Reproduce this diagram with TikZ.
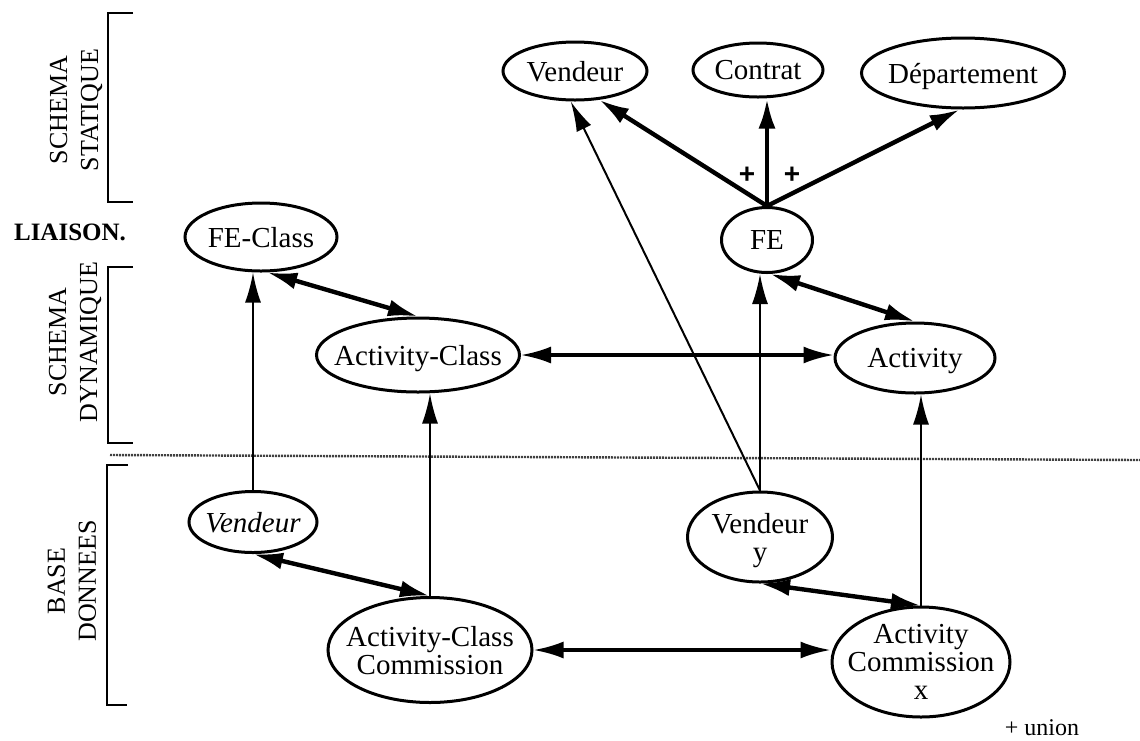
\documentclass[tikz,border=0pt]{standalone}
\usepackage{fontspec}
\setmainfont{Liberation Serif}
\setsansfont{Liberation Sans}
\usetikzlibrary{shapes.geometric,arrows.meta}
\newcommand{\nodetxt}[1]{\smash{\makebox[0pt]{\raisebox{-0.36em}{\begin{tabular}{@{}c@{}}#1\end{tabular}}}}}
\tikzset{
  ent/.style={ellipse, draw, line width=3pt, inner sep=0pt,
    font=\fontsize{29}{28}\selectfont},
  thickarr/.style={line width=4.4pt, -{Latex[length=30pt,width=17pt]}},
  dthickarr/.style={line width=4.4pt, {Latex[length=30pt,width=17pt]}-{Latex[length=30pt,width=17pt]}},
  medarr/.style={line width=3.2pt, {Latex[length=30pt,width=17pt]}-{Latex[length=30pt,width=17pt]}},
  thinarr/.style={line width=2pt, -{Latex[length=30pt,width=16pt]}},
  brack/.style={line width=2.6pt},
  side/.style={rotate=90, align=center, font=\fontsize{26}{31}\selectfont},
}
\begin{document}
\begin{tikzpicture}[x=1pt,y=-1pt]
\useasboundingbox (0,0) rectangle (1140,740);
% side labels and brackets
\node[side] (ls) at (76,110) {SCHEMA\\STATIQUE};
\draw[brack] (133,13) -- (108,13) -- (108,202) -- (133,202);
\node[font=\fontsize{25}{25}\selectfont\bfseries] (liaison) at (70,232) {LIAISON.};
\node[side] (ld) at (75,342) {SCHEMA\\DYNAMIQUE};
\draw[brack] (133,267) -- (108,267) -- (108,443) -- (133,443);
\draw[line width=2.4pt, black!75, dash pattern=on 2pt off 1pt] (110,455) -- (1140,460);
\node[side] (lb) at (72,581) {BASE\\DONNEES};
\draw[brack] (128,465) -- (107,465) -- (107,705) -- (127,705);
% nodes
\node[ent, minimum width=144, minimum height=58] (VendS) at (575,71) {\nodetxt{Vendeur}};
\node[ent, minimum width=130, minimum height=54] (Contrat) at (758,70) {\nodetxt{Contrat}};
\node[ent, minimum width=203, minimum height=70] (Dept) at (963,73) {\nodetxt{Département}};
\node[ent, minimum width=152, minimum height=68] (FEClass) at (261,237) {\nodetxt{FE-Class}};
\node[ent, minimum width=91, minimum height=65] (FE) at (767,240) {\nodetxt{FE}};
\node[ent, minimum width=203, minimum height=74] (ActClass) at (418,355) {\nodetxt{Activity-Class}};
\node[ent, minimum width=160, minimum height=70] (Activity) at (915,358) {\nodetxt{Activity}};
\node[ent, minimum width=128, minimum height=61] (VendI) at (253,522) {\nodetxt{\itshape Vendeur}};
\node[ent, minimum width=145, minimum height=90] (VendY) at (760,537) {\nodetxt{Vendeur\\y}};
\node[ent, minimum width=204, minimum height=105] (ACC) at (430,650) {\nodetxt{Activity-Class\\Commission}};
\node[ent, minimum width=178, minimum height=110] (AC) at (921,662) {\nodetxt{Activity\\Commission\\x}};
% static schema arrows
\draw[thickarr] (FE.north) -- (VendS.-50);
\draw[thickarr] (FE.north) -- (FE.north |- Contrat.south);
\draw[thickarr] (FE.north) -- (Dept.-95);
\node[font=\fontsize{28}{28}\selectfont\sffamily\bfseries] (p1) at (747,175) {+};
\node[font=\fontsize{28}{28}\selectfont\sffamily\bfseries] (p2) at (792,175) {+};
% dynamic schema
\draw[dthickarr] (FEClass.-80) -- (ActClass.north);
\draw[dthickarr] (FE.-85) -- (Activity.north);
\draw[medarr] (ActClass.east) -- (ActClass.east -| Activity.west);
% database
\draw[dthickarr] (VendI.south) -- (ACC.north);
\draw[dthickarr] (VendY.south) -- (AC.north);
\draw[medarr] (ACC.east) -- (ACC.east -| AC.west);
% links up
\draw[thinarr] (VendI.north) -- (VendI.north |- FEClass.south);
\draw[thinarr] (ACC.north) -- (ACC.north |- ActClass.south);
\draw[thinarr] (VendY.north) -- (VendY.north |- FE.south);
\draw[thinarr] (VendY.north) -- (VendS.-98);
\draw[thinarr] (AC.north) -- (AC.north |- Activity.south);
\node[font=\fontsize{24}{24}\selectfont] (union) at (1042,728) {+ union};
\end{tikzpicture}
\end{document}
